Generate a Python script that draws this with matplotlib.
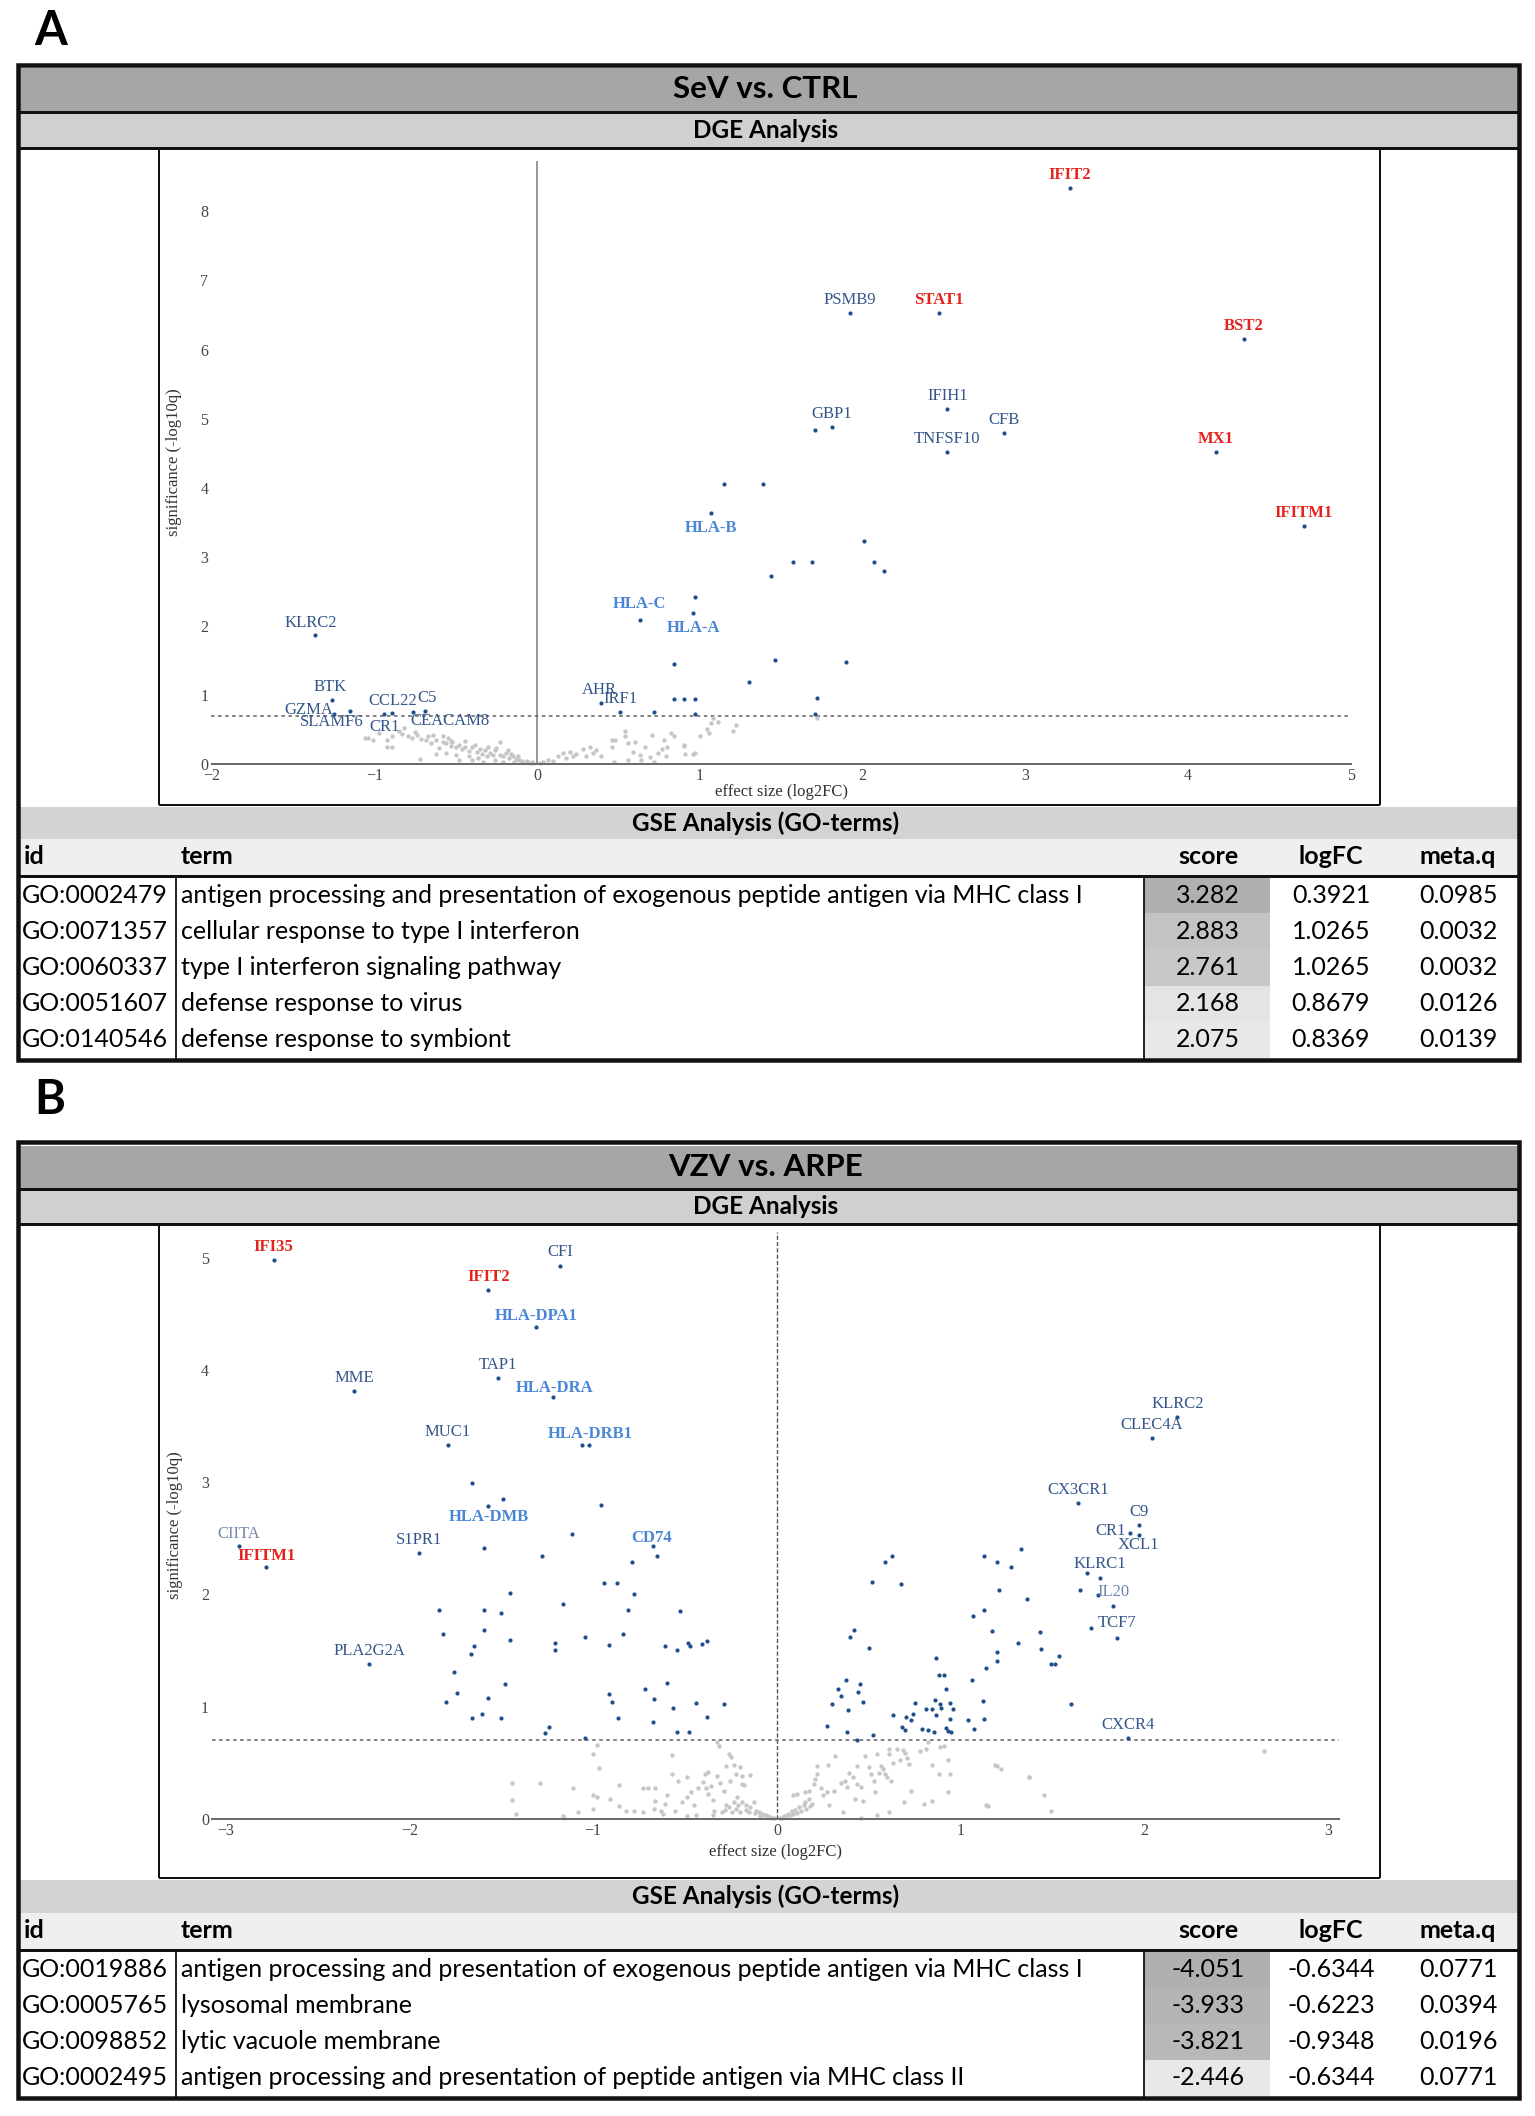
import matplotlib
matplotlib.use("Agg")
import matplotlib.pyplot as plt
from matplotlib.patches import Rectangle
import numpy as np

plt.rcParams["font.family"] = ["Lato", "DejaVu Sans"]
SERIF = ["Liberation Serif", "DejaVu Serif"]

W, H = 1535, 2116

# ---------------- panel A : SeV vs. CTRL ----------------
a_title = "SeV vs. CTRL"

# non significant genes (grey cloud)
a_ns_pts = [
    (-1.06, 0.37), (-1.04, 0.37), (-1.01, 0.35), (-0.97, 0.45), (-0.92, 0.24), (-0.92, 0.35),
    (-0.89, 0.41), (-0.89, 0.24), (-0.85, 0.48), (-0.83, 0.44), (-0.82, 0.52), (-0.79, 0.41),
    (-0.77, 0.37), (-0.75, 0.47), (-0.735, 0.42), (-0.72, 0.07), (-0.715, 0.36), (-0.68, 0.35),
    (-0.67, 0.40), (-0.65, 0.31), (-0.64, 0.42), (-0.62, 0.35), (-0.62, 0.145), (-0.60, 0.23),
    (-0.58, 0.32), (-0.58, 0.40), (-0.56, 0.30), (-0.56, 0.155), (-0.55, 0.37), (-0.53, 0.26),
    (-0.53, 0.34), (-0.52, 0.32), (-0.50, 0.24), (-0.50, 0.13), (-0.48, 0.28), (-0.48, 0.06),
    (-0.46, 0.21), (-0.44, 0.25), (-0.44, 0.33), (-0.42, 0.19), (-0.42, 0.12), (-0.40, 0.24),
    (-0.40, 0.06), (-0.38, 0.28), (-0.37, 0.18), (-0.36, 0.09), (-0.35, 0.21), (-0.34, 0.145),
    (-0.33, 0.03), (-0.32, 0.20), (-0.31, 0.11), (-0.30, 0.24), (-0.29, 0.16), (-0.27, 0.13),
    (-0.26, 0.06), (-0.26, 0.20), (-0.25, 0.23), (-0.23, 0.32), (-0.23, 0.13), (-0.21, 0.11),
    (-0.21, 0.03), (-0.19, 0.155), (-0.18, 0.20), (-0.17, 0.08), (-0.16, 0.14), (-0.15, 0.11),
    (-0.14, 0.03), (-0.13, 0.07), (-0.12, 0.12), (-0.11, 0.06), (-0.09, 0.04), (-0.07, 0.03),
    (-0.06, 0.05), (-0.045, 0.02), (-0.03, 0.03), (-0.025, 0.01),
    (0.016, 0.02), (0.037, 0.03), (0.068, 0.06), (0.10, 0.04), (0.13, 0.11), (0.16, 0.155),
    (0.18, 0.08), (0.20, 0.18), (0.22, 0.11), (0.24, 0.145), (0.28, 0.21), (0.30, 0.11),
    (0.325, 0.24), (0.345, 0.155), (0.365, 0.20), (0.39, 0.11), (0.46, 0.35), (0.46, 0.24),
    (0.47, 0.03), (0.48, 0.35), (0.54, 0.48), (0.54, 0.41), (0.56, 0.31), (0.56, 0.06),
    (0.59, 0.18), (0.60, 0.32), (0.63, 0.13), (0.64, 0.06), (0.665, 0.24), (0.695, 0.10),
    (0.705, 0.42), (0.72, 0.03), (0.74, 0.155), (0.77, 0.21), (0.78, 0.35), (0.79, 0.11),
    (0.80, 0.24), (0.82, 0.45), (0.84, 0.40), (0.90, 0.26), (0.90, 0.27), (0.91, 0.145),
    (0.96, 0.15), (0.97, 0.155), (1.0, 0.41), (1.045, 0.50), (1.056, 0.45), (1.07, 0.59),
    (1.08, 0.66), (1.11, 0.61), (1.205, 0.48), (1.22, 0.565), (1.72, 0.66),
]

# significant genes without a label
a_sig_pts = [
    (0.72, 0.76), (0.84, 0.94), (0.90, 0.94), (0.97, 0.94), (0.97, 0.72), (0.84, 1.45),
    (1.30, 1.18), (0.97, 2.42), (1.15, 4.05), (1.39, 4.05), (2.01, 3.23), (1.57, 2.92),
    (1.69, 2.92), (2.07, 2.92), (2.13, 2.80), (1.44, 2.72), (1.46, 1.50), (1.90, 1.47),
    (1.72, 0.95), (1.71, 0.72), (1.71, 4.83),
]

# labelled genes: kind n = plain, b = bold blue, r = bold red
a_gene_names = ["KLRC2", "BTK", "GZMA", "SLAMF6", "CR1", "CCL22", "CEACAM8", "C5", "AHR", "IRF1",
                "HLA-C", "HLA-A", "HLA-B", "GBP1", "PSMB9", "STAT1", "IFIT2", "IFIH1", "TNFSF10",
                "CFB", "MX1", "BST2", "IFITM1"]
a_gene_x = [-1.366, -1.259, -1.25, -1.15, -0.94, -0.89, -0.765, -0.687, 0.39, 0.51,
            0.63, 0.96, 1.07, 1.81, 1.92, 2.47, 3.275, 2.52, 2.52,
            2.87, 4.17, 4.34, 4.71]
a_gene_y = [1.87, 0.93, 0.73, 0.77, 0.72, 0.74, 0.75, 0.77, 0.88, 0.75,
            2.09, 2.19, 3.64, 4.88, 6.53, 6.53, 8.34, 5.14, 4.51,
            4.79, 4.51, 6.15, 3.45]
a_gene_kind = ["n", "n", "n", "n", "n", "n", "n", "n", "n", "n",
               "b", "b", "b", "n", "n", "r", "r", "n", "n",
               "n", "r", "r", "r"]
a_label_offset = {"KLRC2": (-3, 8.5), "BTK": (-1.5, 9.4), "GZMA": (-18, 2.6), "SLAMF6": (-13, -8),
                  "CR1": (0.5, -9), "CCL22": (0, 8.6), "C5": (1.5, 9.4), "CEACAM8": (27, -6.5),
                  "AHR": (-1, 9.4), "HLA-C": (0, 11), "HLA-A": (0, -11), "HLA-B": (0, -11)}

a_go_id = ["GO:0002479", "GO:0071357", "GO:0060337", "GO:0051607", "GO:0140546"]
a_go_term = ["antigen processing and presentation of exogenous peptide antigen via MHC class I",
             "cellular response to type I interferon",
             "type I interferon signaling pathway",
             "defense response to virus",
             "defense response to symbiont"]
a_go_score = [3.282, 2.883, 2.761, 2.168, 2.075]
a_go_logfc = [0.3921, 1.0265, 1.0265, 0.8679, 0.8369]
a_go_metaq = [0.0985, 0.0032, 0.0032, 0.0126, 0.0139]

# ---------------- panel B : VZV vs. ARPE ----------------
b_title = "VZV vs. ARPE"

b_ns_pts = [
    (-1.44, 0.32), (-1.44, 0.17), (-1.42, 0.04), (-1.29, 0.32), (-1.165, 0.02), (-1.16, 0.01),
    (-1.11, 0.27), (-1.08, 0.06), (-1.0, 0.58), (-1.0, 0.21), (-1.0, 0.09), (-0.98, 0.66),
    (-0.98, 0.19), (-0.97, 0.45), (-0.91, 0.18), (-0.86, 0.30), (-0.86, 0.11), (-0.82, 0.07),
    (-0.78, 0.07), (-0.73, 0.06), (-0.73, 0.27), (-0.70, 0.27), (-0.665, 0.27), (-0.665, 0.16),
    (-0.67, 0.09), (-0.63, 0.07), (-0.62, 0.04), (-0.61, 0.13), (-0.60, 0.21), (-0.57, 0.57),
    (-0.57, 0.40), (-0.557, 0.07), (-0.54, 0.34), (-0.514, 0.15), (-0.49, 0.37), (-0.49, 0.19),
    (-0.49, 0.02), (-0.47, 0.24), (-0.45, 0.12), (-0.44, 0.03), (-0.43, 0.27), (-0.40, 0.33),
    (-0.39, 0.40), (-0.385, 0.27), (-0.375, 0.42), (-0.375, 0.22), (-0.36, 0.29), (-0.35, 0.17),
    (-0.35, 0.03), (-0.34, 0.07), (-0.326, 0.68), (-0.325, 0.38), (-0.315, 0.65), (-0.31, 0.32),
    (-0.30, 0.06), (-0.29, 0.25), (-0.28, 0.08), (-0.276, 0.47), (-0.276, 0.12), (-0.26, 0.575),
    (-0.26, 0.10), (-0.255, 0.34), (-0.25, 0.55), (-0.244, 0.06), (-0.233, 0.48), (-0.233, 0.15),
    (-0.22, 0.40), (-0.22, 0.09), (-0.216, 0.19), (-0.21, 0.12), (-0.20, 0.46), (-0.2, 0.06),
    (-0.19, 0.38), (-0.19, 0.31), (-0.19, 0.15), (-0.18, 0.30), (-0.17, 0.08), (-0.168, 0.12),
    (-0.15, 0.06), (-0.147, 0.39), (-0.147, 0.10), (-0.125, 0.15), (-0.12, 0.05), (-0.114, 0.07),
    (-0.10, 0.06), (-0.09, 0.02), (-0.08, 0.04), (-0.07, 0.03), (-0.06, 0.03), (-0.05, 0.02),
    (-0.04, 0.015), (-0.03, 0.01), (-0.017, 0.006),
    (0.015, 0.006), (0.03, 0.01), (0.037, 0.02), (0.05, 0.02), (0.058, 0.044), (0.07, 0.03),
    (0.08, 0.065), (0.09, 0.04), (0.09, 0.21), (0.10, 0.08), (0.11, 0.05), (0.112, 0.22),
    (0.123, 0.10), (0.13, 0.07), (0.145, 0.12), (0.155, 0.15), (0.155, 0.24), (0.16, 0.09),
    (0.177, 0.18), (0.177, 0.25), (0.18, 0.11), (0.19, 0.13), (0.2, 0.31), (0.21, 0.35),
    (0.22, 0.40), (0.22, 0.47), (0.24, 0.27), (0.25, 0.21), (0.275, 0.24), (0.28, 0.48),
    (0.285, 0.12), (0.313, 0.25), (0.317, 0.56), (0.35, 0.32), (0.36, 0.06), (0.37, 0.34),
    (0.38, 0.28), (0.39, 0.41), (0.415, 0.37), (0.425, 0.18), (0.436, 0.47), (0.436, 0.31),
    (0.458, 0.28), (0.46, 0.006), (0.47, 0.16), (0.48, 0.56), (0.50, 0.46), (0.51, 0.40),
    (0.53, 0.34), (0.533, 0.24), (0.545, 0.575), (0.545, 0.03), (0.555, 0.41), (0.566, 0.47),
    (0.577, 0.44), (0.587, 0.40), (0.598, 0.37), (0.61, 0.62), (0.61, 0.575), (0.61, 0.06),
    (0.62, 0.34), (0.63, 0.50), (0.652, 0.62), (0.67, 0.52), (0.685, 0.61), (0.69, 0.15),
    (0.695, 0.59), (0.706, 0.545), (0.717, 0.49), (0.728, 0.25), (0.78, 0.60), (0.80, 0.13),
    (0.81, 0.625), (0.825, 0.68), (0.847, 0.48), (0.847, 0.16), (0.88, 0.40), (0.89, 0.64),
    (0.91, 0.65), (0.933, 0.52), (0.933, 0.24), (0.944, 0.40), (1.14, 0.12), (1.15, 0.11),
    (1.19, 0.48), (1.20, 0.47), (1.22, 0.44), (1.37, 0.37), (1.375, 0.37), (1.455, 0.21),
    (1.49, 0.065), (2.65, 0.60),
]

b_sig_pts = [
    (-1.063, 3.33), (-1.66, 2.99), (-1.49, 2.85), (-0.96, 2.80), (-1.115, 2.54), (-1.595, 2.41),
    (-1.276, 2.34), (-0.652, 2.34), (-0.79, 2.29), (-0.94, 2.10), (-0.873, 2.10), (-0.78, 2.0),
    (-1.455, 2.01), (-1.84, 1.86), (-1.595, 1.86), (-1.50, 1.83), (-1.163, 1.91), (-0.81, 1.86),
    (-0.525, 1.85), (-1.82, 1.65), (-1.595, 1.68), (-0.84, 1.65), (-1.045, 1.62), (-1.455, 1.59),
    (-1.65, 1.54), (-1.667, 1.47), (-1.21, 1.57), (-1.21, 1.50), (-0.914, 1.55), (-0.61, 1.54),
    (-0.543, 1.50), (-0.482, 1.57), (-0.475, 1.54), (-0.407, 1.56), (-0.38, 1.58), (-1.76, 1.31),
    (-1.48, 1.20), (-0.60, 1.21), (-0.72, 1.16), (-1.74, 1.12), (-0.914, 1.11), (-0.667, 1.07),
    (-1.575, 1.08), (-0.896, 1.04), (-1.80, 1.04), (-0.44, 1.03), (-0.29, 1.02), (-0.566, 0.99),
    (-1.66, 0.90), (-1.606, 0.93), (-1.50, 0.90), (-0.864, 0.90), (-0.378, 0.91), (-0.674, 0.86),
    (-1.24, 0.82), (-1.26, 0.76), (-0.543, 0.77), (-0.48, 0.77), (-1.045, 0.72),
    (1.69, 2.19), (1.65, 2.04), (1.75, 1.99), (1.71, 1.70), (1.33, 2.40), (1.13, 2.34),
    (1.20, 2.29), (1.275, 2.24), (0.624, 2.34), (0.587, 2.29), (0.52, 2.11), (0.677, 2.09),
    (1.21, 2.04), (1.36, 1.96), (1.125, 1.86), (1.07, 1.81), (0.42, 1.68), (0.40, 1.62),
    (0.50, 1.52), (1.17, 1.67), (1.43, 1.66), (1.31, 1.57), (1.44, 1.51), (1.20, 1.49),
    (1.20, 1.41), (1.535, 1.45), (1.49, 1.38), (1.516, 1.38), (0.867, 1.43), (1.14, 1.34),
    (0.88, 1.28), (0.91, 1.28), (1.06, 1.24), (0.376, 1.24), (0.454, 1.20), (0.335, 1.16),
    (0.44, 1.13), (0.35, 1.09), (0.92, 1.16), (0.30, 1.02), (0.47, 1.04), (0.385, 0.97),
    (0.75, 1.03), (0.86, 1.06), (0.886, 1.02), (0.94, 1.03), (0.81, 0.98), (0.845, 0.98),
    (0.896, 0.99), (0.96, 0.98), (1.12, 1.05), (1.60, 1.02), (0.74, 0.93), (0.63, 0.92),
    (0.705, 0.91), (0.73, 0.88), (0.865, 0.92), (0.94, 0.89), (1.04, 0.88), (1.13, 0.885),
    (0.273, 0.83), (0.68, 0.82), (0.70, 0.79), (0.79, 0.80), (0.82, 0.79), (0.856, 0.77),
    (0.92, 0.81), (0.93, 0.785), (0.946, 0.77), (1.075, 0.80), (0.38, 0.77), (0.525, 0.75),
    (0.434, 0.70),
]

b_gene_names = ["IFI35", "CFI", "IFIT2", "HLA-DPA1", "TAP1", "MME", "HLA-DRA", "MUC1", "HLA-DRB1",
                "HLA-DMB", "CIITA", "IFITM1", "S1PR1", "CD74", "PLA2G2A", "KLRC2", "CLEC4A",
                "CX3CR1", "C9", "CR1", "XCL1", "KLRC1", "IL20", "TCF7", "CXCR4"]
b_gene_x = [-2.74, -1.18, -1.57, -1.31, -1.52, -2.30, -1.22, -1.79, -1.025,
            -1.57, -2.93, -2.78, -1.95, -0.672, -2.22, 2.18, 2.04,
            1.64, 1.97, 1.92, 1.97, 1.76, 1.83, 1.85, 1.91]
b_gene_y = [4.98, 4.93, 4.71, 4.38, 3.93, 3.81, 3.76, 3.33, 3.33,
            2.79, 2.43, 2.24, 2.37, 2.43, 1.38, 3.58, 3.39,
            2.81, 2.62, 2.55, 2.53, 2.15, 1.90, 1.61, 0.72]
b_gene_kind = ["r", "n", "r", "b", "n", "n", "b", "n", "b",
               "b", "l", "r", "n", "b", "n", "n", "n",
               "n", "n", "n", "n", "n", "l", "n", "n"]
b_label_offset = {"HLA-DPA1": (0, 8), "HLA-DRA": (1, 6.5), "HLA-DRB1": (1, 8), "HLA-DMB": (0, -8),
                  "CD74": (-1, 6), "CIITA": (0, 8.5), "IFITM1": (0, 8), "CR1": (-14, 1),
                  "XCL1": (0, -7.5), "TCF7": (0, 11)}

b_go_id = ["GO:0019886", "GO:0005765", "GO:0098852", "GO:0002495"]
b_go_term = ["antigen processing and presentation of exogenous peptide antigen via MHC class I",
             "lysosomal membrane",
             "lytic vacuole membrane",
             "antigen processing and presentation of peptide antigen via MHC class II"]
b_go_score = [-4.051, -3.933, -3.821, -2.446]
b_go_logfc = [-0.6344, -0.6223, -0.9348, -0.6344]
b_go_metaq = [0.0771, 0.0394, 0.0196, 0.0771]

q_cut = 0.2   # dotted significance line

# ---------------- layout (pixels) ----------------
FX0, FX1 = 18, 1519
layout_a = dict(letter="A", letter_y=31, top=65, title=(68, 111), dge=(114, 147), plot=(149, 805),
                gse=(807, 839), head=(839, 875), row0=877, bottom=1060,
                axes=(211.5, 161, 1351, 764), xlim=(-2, 5), ylim=(0, 8.73),
                xlab_y=-0.047, vdash=False)
layout_b = dict(letter="B", letter_y=1100, top=1142, title=(1146, 1188), dge=(1191, 1223),
                plot=(1225, 1878), gse=(1880, 1913), head=(1913, 1949), row0=1951, bottom=2098,
                axes=(212, 1232, 1339, 1818.7), xlim=(-3.075, 3.06), ylim=(0, 5.23),
                xlab_y=-0.056, vdash=True)
ROW_H = 36.2
TFS = 18   # table font size

NAVY = "#1f4e8c"
LABEL = {"n": ("#34558a", "normal"), "b": ("#4a86d6", "bold"),
         "r": ("#e3231c", "bold"), "l": ("#7186ad", "normal")}

fig = plt.figure(figsize=(W / 100, H / 100), dpi=100)
bg = fig.add_axes([0, 0, 1, 1])
bg.set_xlim(0, W)
bg.set_ylim(H, 0)
bg.axis("off")


def pt(p):
    return p * 0.72


def band(y0, y1, color, x0=FX0, x1=FX1):
    bg.add_patch(Rectangle((x0, y0), x1 - x0, y1 - y0, facecolor=color, edgecolor="none", zorder=1))


def line(xs, ys, w, color="#111111"):
    bg.plot(xs, ys, color=color, lw=pt(w), solid_capstyle="butt", zorder=3)


def draw_frame(L, title):
    bg.text(34, L["letter_y"], L["letter"], fontsize=34, fontweight="bold", ha="left", va="center")
    band(L["top"], L["bottom"], "white")
    band(L["title"][0], L["title"][1], "#a6a6a6")
    band(L["dge"][0], L["dge"][1], "#d0d0d0")
    band(L["gse"][0], L["gse"][1], "#d3d3d3")
    band(L["head"][0], L["head"][1], "#efefef")
    bg.text(W / 2 - 2, sum(L["title"]) / 2, title, fontsize=22.5, fontweight="bold", ha="center", va="center")
    bg.text(W / 2 - 2, sum(L["dge"]) / 2, "DGE Analysis", fontsize=17.5, fontweight="bold",
            ha="center", va="center")
    bg.text(W / 2 - 2, sum(L["gse"]) / 2, "GSE Analysis (GO-terms)", fontsize=17.5, fontweight="bold",
            ha="center", va="center")
    # separators
    line([FX0, FX1], [L["title"][1] + 1, L["title"][1] + 1], 3)
    line([FX0, FX1], [L["dge"][1] + 1, L["dge"][1] + 1], 3)
    line([FX0, FX1], [L["head"][1] + 1, L["head"][1] + 1], 3)
    # plot box
    p0, p1 = L["plot"]
    line([159, 159], [p0, p1], 2)
    line([1380, 1380], [p0, p1], 2)
    line([159, 1380], [p1, p1], 2)
    # outer frame
    bg.add_patch(Rectangle((FX0, L["top"]), FX1 - FX0, L["bottom"] - L["top"], facecolor="none",
                           edgecolor="#111111", lw=pt(4.5), zorder=4))


def draw_table(L, ids, terms, scores, logfc, metaq):
    hy = sum(L["head"]) / 2
    bg.text(24, hy, "id", fontsize=TFS, fontweight="bold", ha="left", va="center")
    bg.text(181, hy, "term", fontsize=TFS, fontweight="bold", ha="left", va="center")
    bg.text(1208, hy, "score", fontsize=TFS, fontweight="bold", ha="center", va="center")
    bg.text(1331, hy, "logFC", fontsize=TFS, fontweight="bold", ha="center", va="center")
    bg.text(1458, hy, "meta.q", fontsize=TFS, fontweight="bold", ha="center", va="center")
    mags = np.abs(scores)
    lo, hi = mags.min(), mags.max()
    for i in range(len(ids)):
        y0 = L["row0"] + i * ROW_H
        g = (176 + (hi - mags[i]) / (hi - lo) * 56) / 255
        band(y0, y0 + ROW_H, (g, g, g), 1144, 1270)
        yc = y0 + ROW_H / 2
        bg.text(22, yc, ids[i], fontsize=TFS, ha="left", va="center")
        bg.text(181, yc, terms[i], fontsize=TFS, ha="left", va="center")
        bg.text(1208, yc, "%.3f" % scores[i], fontsize=TFS, ha="center", va="center")
        bg.text(1331, yc, "%.4f" % logfc[i], fontsize=TFS, ha="center", va="center")
        bg.text(1458, yc, "%.4f" % metaq[i], fontsize=TFS, ha="center", va="center")
    line([176, 176], [L["head"][1] + 2, L["bottom"]], 1.8)
    line([1144, 1144], [L["head"][1] + 2, L["bottom"]], 1.8)


def draw_volcano(L, ns_pts, sig_pts, names, gx, gy, kinds, offsets, yticks, xticks):
    x0, y0, x1, y1 = L["axes"]
    ax = fig.add_axes([x0 / W, 1 - y1 / H, (x1 - x0) / W, (y1 - y0) / H])
    ax.set_facecolor("none")
    ax.set_xlim(*L["xlim"])
    ax.set_ylim(*L["ylim"])
    for s in ["top", "right", "left"]:
        ax.spines[s].set_visible(False)
    ax.spines["bottom"].set_color("#6b6b6b")
    ax.spines["bottom"].set_linewidth(pt(2))
    ax.set_xticks(xticks)
    ax.set_yticks(yticks)
    ax.tick_params(axis="x", length=0, pad=pt(4), labelsize=11.5, labelcolor="#444444",
                   labelfontfamily=SERIF[0])
    ax.tick_params(axis="y", length=0, pad=pt(3), labelsize=11.5, labelcolor="#444444",
                   labelfontfamily=SERIF[0])

    if L["vdash"]:
        ax.plot([0, 0], [0, L["ylim"][1]], color="#555555", lw=pt(1.4), ls=(0, (3, 1.5)), zorder=1)
    else:
        ax.plot([0, 0], [0, L["ylim"][1]], color="#808080", lw=pt(1.6), zorder=1)
    ax.axhline(-np.log10(q_cut), color="#666666", lw=pt(1.6), ls=(0, (2.2, 2.2)), zorder=1)

    nx, ny = zip(*ns_pts)
    ax.scatter(nx, ny, s=10, color="#c6c6c6", lw=0, zorder=2, clip_on=False)
    sx, sy = zip(*sig_pts)
    ax.scatter(sx, sy, s=9, color=NAVY, lw=0, zorder=3, clip_on=False)
    ax.scatter(gx, gy, s=9, color=NAVY, lw=0, zorder=3, clip_on=False)
    for name, x, y, k in zip(names, gx, gy, kinds):
        col, wt = LABEL[k]
        ax.annotate(name, (x, y), xytext=offsets.get(name, (0, 9.5)), textcoords="offset points",
                    ha="center", va="center", fontsize=12, family=SERIF, color=col,
                    fontweight=wt, zorder=4)

    ax.text(-0.0329, 0.5, "significance (-log10q)", transform=ax.transAxes, rotation=90,
            ha="center", va="center", fontsize=12, family=SERIF, color="#333333")
    ax.text(0.5, L["xlab_y"], "effect size (log2FC)", transform=ax.transAxes,
            ha="center", va="center", fontsize=12, family=SERIF, color="#333333")
    return ax


draw_frame(layout_a, a_title)
draw_table(layout_a, a_go_id, a_go_term, a_go_score, a_go_logfc, a_go_metaq)
draw_volcano(layout_a, a_ns_pts, a_sig_pts, a_gene_names, a_gene_x, a_gene_y, a_gene_kind,
             a_label_offset, range(0, 9), range(-2, 6))

draw_frame(layout_b, b_title)
draw_table(layout_b, b_go_id, b_go_term, b_go_score, b_go_logfc, b_go_metaq)
draw_volcano(layout_b, b_ns_pts, b_sig_pts, b_gene_names, b_gene_x, b_gene_y, b_gene_kind,
             b_label_offset, range(0, 6), range(-3, 4))

fig.savefig("out.png", dpi=100, facecolor="white")
